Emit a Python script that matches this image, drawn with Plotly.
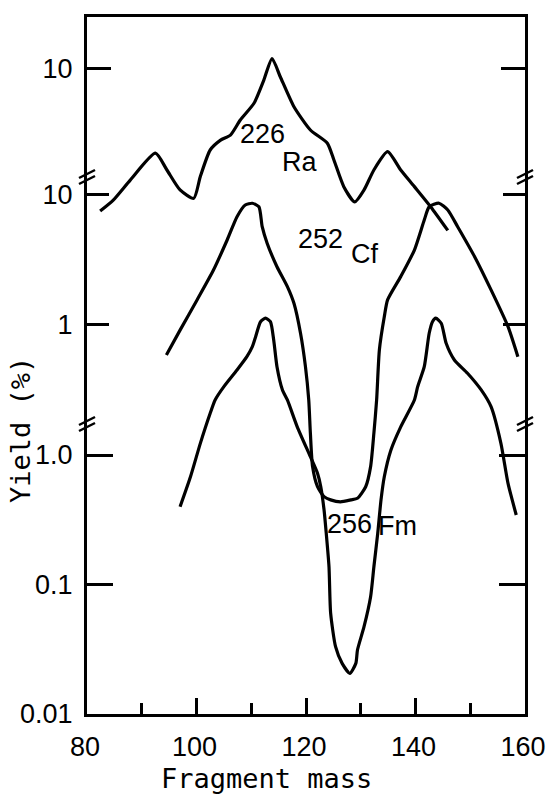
import plotly.graph_objects as go

# ---- data ----
mass_ra = [82.4, 84.8, 87.9, 92.5, 94.6, 97.0, 99.5, 100.7, 102.5, 104.4, 106.2, 108.0, 110.5, 112.3, 113.8,
           115.3, 117.8, 120.8, 123.9, 125.1, 126.9, 128.9, 130.6, 132.4, 134.9, 137.3, 139.8, 142.8, 145.9]
yield_ra = [0.79, 0.96, 1.37, 2.21, 1.64, 1.15, 0.99, 1.46, 2.34, 2.79, 3.05, 3.99, 5.37, 8.12, 11.9,
            8.61, 5.05, 3.34, 2.64, 1.96, 1.22, 0.93, 1.15, 1.64, 2.27, 1.64, 1.22, 0.85, 0.56]

mass_cf = [94.5, 97.0, 100.1, 103.1, 105.6, 107.4, 108.9, 110.2, 111.4, 112.0, 112.9, 114.7, 116.6, 117.8, 119.0,
           119.9, 120.5, 120.8, 121.2, 122.1, 123.3, 124.5, 126.3, 128.2, 129.4, 130.9, 131.8, 132.4, 132.9, 133.4,
           134.3, 134.9, 137.3, 139.8, 141.6, 142.5, 144.3, 145.9, 147.7, 150.8, 153.8, 156.9, 158.7]
yield_cf = [0.578, 0.90, 1.54, 2.62, 4.47, 6.76, 8.33, 8.59, 8.07, 5.66, 4.22, 2.78, 1.95, 1.45, 0.851,
            0.470, 0.260, 0.144, 0.0795, 0.0556, 0.0466, 0.044, 0.0425, 0.044, 0.0453, 0.0556, 0.0795, 0.144, 0.260, 0.632,
            1.14, 1.54, 2.33, 3.74, 6.38, 8.07, 8.59, 7.62, 5.66, 3.32, 1.84, 0.957, 0.561]

mass_fm = [97.0, 98.9, 100.7, 102.5, 103.4, 105.0, 107.4, 109.2, 110.2, 110.8, 111.7, 112.6, 113.5, 114.1, 114.7,
           115.7, 116.6, 118.4, 120.8, 122.1, 122.7, 123.3, 123.7, 124.2, 124.5, 125.4, 126.6, 128.0, 129.1, 129.4,
           130.6, 131.8, 132.4, 133.1, 133.7, 134.3, 135.5, 137.3, 139.8, 140.4, 141.6, 142.5, 143.1, 143.7, 144.7,
           145.6, 147.1, 149.5, 152.0, 153.8, 155.6, 156.9, 158.4]
yield_fm = [0.399, 0.679, 1.23, 2.10, 2.66, 3.37, 4.53, 5.74, 6.86, 8.20, 10.7, 11.4, 10.7, 7.73, 4.81,
            3.18, 2.66, 1.65, 0.97, 0.723, 0.569, 0.376, 0.248, 0.137, 0.060, 0.0331, 0.0246, 0.0206, 0.0246, 0.0312,
            0.0472, 0.0805, 0.137, 0.248, 0.450, 0.679, 1.09, 1.65, 2.66, 3.37, 4.81, 8.71, 10.7, 11.4, 10.4,
            7.29, 5.42, 4.28, 3.18, 2.36, 1.23, 0.604, 0.344]

x_ticks = [80, 100, 120, 140, 160]
x_minor = [90, 110, 130, 150]
ra_ticks, ra_text = [10], ["10"]
cf_ticks, cf_text = [10, 1], ["10", "1"]
fm_ticks, fm_text = [1, 0.1, 0.01], ["1.0", "0.1", "0.01"]

# ---- figure ----
W, H = 546, 810
ML, MR, MT, MB = 87, 21, 17, 96
PH = H - MT - MB
DEC = 129.5  # pixels per decade
SPAN = PH / DEC

line = dict(color="black", width=3.2, shape="spline", smoothing=0.6)
fig = go.Figure()
fig.add_trace(go.Scatter(x=mass_fm, y=yield_fm, mode="lines", line=line, yaxis="y", name="256Fm"))
fig.add_trace(go.Scatter(x=mass_cf, y=yield_cf, mode="lines", line=line, yaxis="y2", name="252Cf"))
fig.add_trace(go.Scatter(x=mass_ra, y=yield_ra, mode="lines", line=line, yaxis="y3", name="226Ra"))

tickfont = dict(family="Liberation Sans", size=27, color="black")
xtickfont = dict(family="Liberation Sans", size=27, color="black")


def yax(lo, vals, text, tl, **kw):
    d = dict(type="log", range=[lo, lo + SPAN], tickvals=vals, ticktext=text, ticks="inside",
             ticklen=tl, tickwidth=3, tickcolor="black", showline=True, linecolor="black", linewidth=3,
             mirror="ticks", showgrid=False, zeroline=False, tickfont=tickfont, ticklabelstandoff=6,
             ticklabeloverflow="allow", automargin=False, fixedrange=True)
    d.update(kw)
    return d


fig.update_layout(
    width=W, height=H, margin=dict(l=ML, r=MR, t=MT, b=MB, autoexpand=False),
    paper_bgcolor="white", plot_bgcolor="white", showlegend=False,
    xaxis=dict(range=[80, 160], tickvals=x_ticks, ticks="inside", ticklen=16, tickwidth=2.5,
               tickcolor="black", showline=True, linecolor="black", linewidth=3, mirror=True,
               showgrid=False, zeroline=False, tickfont=xtickfont, ticklabelstandoff=7,
               ticklabelshift=-2, ticklabeloverflow="allow",
               minor=dict(tickvals=x_minor, ticks="inside", ticklen=11, tickwidth=2.5, tickcolor="black"),
               automargin=False, fixedrange=True),
    yaxis=yax(-2.0, fm_ticks, fm_text, 26),
    yaxis2=yax(-3.01, cf_ticks, cf_text, 22, overlaying="y", side="left"),
    yaxis3=yax(-3.986, ra_ticks, ra_text, 24, overlaying="y", side="left"),
)


def px_to_paper_y(py):
    return (H - MB - py) / PH


def px_to_paper_x(px):
    return (px - ML) / (W - ML - MR)


# axis break marks ("//") on both vertical axes
shapes = []
for py in (177, 424):
    yp = px_to_paper_y(py)
    for xa in (0, 1):
        for dy in (-3, 3):
            shapes.append(dict(type="line", xref="paper", yref="paper", xsizemode="pixel", ysizemode="pixel",
                               xanchor=xa, yanchor=yp, x0=-8, x1=8, y0=-4 + dy, y1=4 + dy,
                               line=dict(color="black", width=2.5)))
fig.update_layout(shapes=shapes)

lab = dict(family="Liberation Sans", size=27, color="black")
labels = [("226", 112.0, 134), ("Ra", 118.8, 162), ("252", 122.7, 239), ("Cf", 130.7, 254),
          ("256", 128.0, 524), ("Fm", 136.8, 526)]
for txt, xm, py in labels:
    fig.add_annotation(text=txt, x=xm, xref="x", y=px_to_paper_y(py), yref="paper", showarrow=False,
                       font=lab, xanchor="center", yanchor="middle")

mono = dict(family="DejaVu Sans Mono", size=27, color="black")
fig.add_annotation(text="Yield (%)", textangle=-90, x=px_to_paper_x(20), y=px_to_paper_y(430),
                   xref="paper", yref="paper", showarrow=False, font=mono, xanchor="center", yanchor="middle")
fig.add_annotation(text="Fragment mass", x=px_to_paper_x(266), y=px_to_paper_y(778),
                   xref="paper", yref="paper", showarrow=False, font=mono, xanchor="center", yanchor="middle")

fig.write_html("out.html", config={"displayModeBar": False},
               post_script="document.body.style.margin='0';document.body.style.overflow='hidden';")
